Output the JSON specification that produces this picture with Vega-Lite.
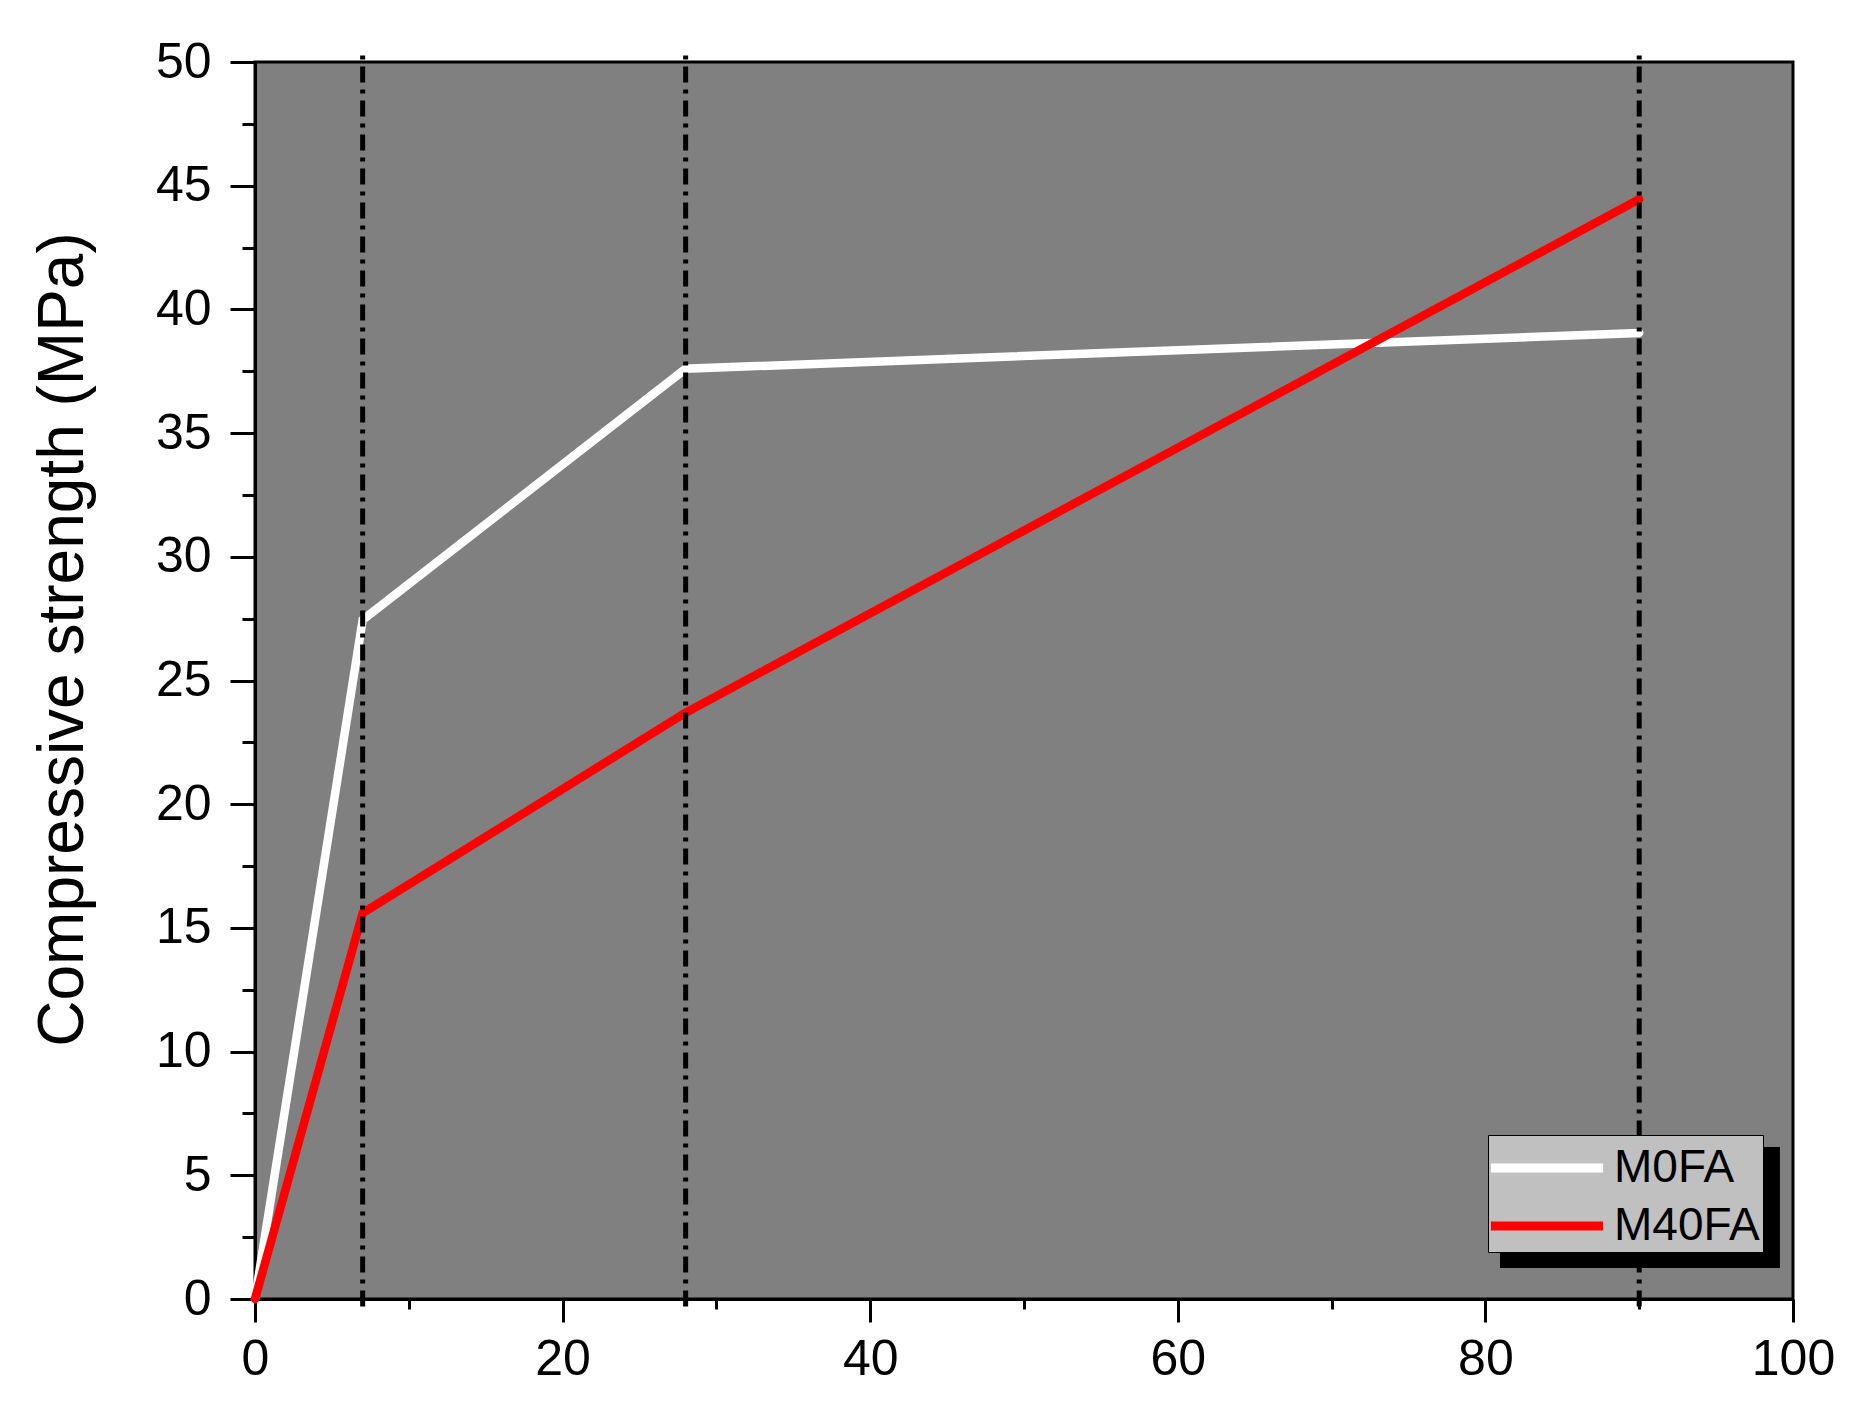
{
  "$schema": "https://vega.github.io/schema/vega-lite/v6.json",
  "width": 1538,
  "height": 1237,
  "autosize": {"type": "none"},
  "padding": {"left": 255, "top": 62, "right": 64, "bottom": 119},
  "background": "white",
  "config": {
    "view": {"fill": "#808080", "stroke": "black", "strokeWidth": 3},
    "font": "Liberation Sans",
    "axis": {
      "domainColor": "black", "domainWidth": 3, "tickColor": "black", "tickWidth": 3,
      "labelColor": "black", "labelFontSize": 50, "labelFont": "Liberation Sans",
      "grid": false, "titleFont": "Liberation Sans", "titleFontWeight": "normal", "titleColor": "black",
      "labelFlush": false, "labelOverlap": false
    },
    "legend": {"fillColor": "#c0c0c0", "strokeColor": "black"}
  },
  "datasets": {
    "strength": [
      {"series": "M0FA", "age": 0, "strength": 0},
      {"series": "M0FA", "age": 7, "strength": 27.45},
      {"series": "M0FA", "age": 28, "strength": 37.6},
      {"series": "M0FA", "age": 90, "strength": 39.05},
      {"series": "M40FA", "age": 0, "strength": 0},
      {"series": "M40FA", "age": 7, "strength": 15.6},
      {"series": "M40FA", "age": 28, "strength": 23.7},
      {"series": "M40FA", "age": 90, "strength": 44.45}
    ],
    "ages": [{"age": 7}, {"age": 28}, {"age": 90}]
  },
  "layer": [
    {
      "data": {"values": [{"item": "legend shadow"}]},
      "mark": {"type": "rect", "color": "black"},
      "encoding": {
        "x": {"datum": 80.95, "type": "quantitative", "scale": {"domain": [0, 100], "nice": false}, "axis": null},
        "x2": {"datum": 99.15},
        "y": {"datum": 6.14, "type": "quantitative", "scale": {"domain": [0, 50], "nice": false}, "axis": null},
        "y2": {"datum": 1.25}
      }
    },
    {
      "data": {"name": "strength"},
      "mark": {"type": "line", "strokeCap": "round", "strokeJoin": "miter", "strokeWidth": 8.5},
      "encoding": {
        "x": {
          "field": "age", "type": "quantitative",
          "scale": {"domain": [0, 100], "nice": false},
          "axis": {"orient": "bottom", "values": [0, 20, 40, 60, 80, 100], "tickSize": 23, "labelPadding": 12, "title": null, "format": "d"}
        },
        "y": {
          "field": "strength", "type": "quantitative",
          "scale": {"domain": [0, 50], "nice": false},
          "axis": {"orient": "left", "values": [0, 5, 10, 15, 20, 25, 30, 35, 40, 45, 50], "tickSize": 25, "labelPadding": 19, "title": "Compressive strength (MPa)", "titleFontSize": 64, "titlePadding": 60, "titleY": 577, "format": "d"}
        },
        "color": {
          "field": "series", "type": "nominal",
          "scale": {"domain": ["M0FA", "M40FA"], "range": ["#ffffff", "#ff0000"]},
          "legend": {
            "title": null, "orient": "none", "legendX": 1233, "legendY": 1073,
            "padding": 3,
            "symbolType": "M -1.18 0 L 3.22 0", "symbolSize": 2601, "symbolStrokeWidth": 9,
            "labelFontSize": 46, "labelFont": "Liberation Sans", "labelColor": "black",
            "labelOffset": 63, "rowPadding": 5
          }
        }
      }
    },
    {
      "data": {"name": "ages"},
      "mark": {"type": "rule", "color": "black", "strokeWidth": 5, "strokeDash": [16, 7, 4, 7]},
      "encoding": {
        "x": {
          "field": "age", "type": "quantitative",
          "scale": {"domain": [0, 100], "nice": false},
          "axis": {"orient": "bottom", "values": [10, 30, 50, 70, 90], "tickSize": 10, "labels": false, "domain": false, "title": null}
        },
        "y": {
          "datum": -0.3, "type": "quantitative",
          "scale": {"domain": [0, 50], "nice": false},
          "axis": {"orient": "left", "values": [2.5, 7.5, 12.5, 17.5, 22.5, 27.5, 32.5, 37.5, 42.5, 47.5], "tickSize": 13, "labels": false, "domain": false, "title": null}
        },
        "y2": {"datum": 50.3}
      }
    }
  ],
  "resolve": {"axis": {"x": "independent", "y": "independent"}}
}
